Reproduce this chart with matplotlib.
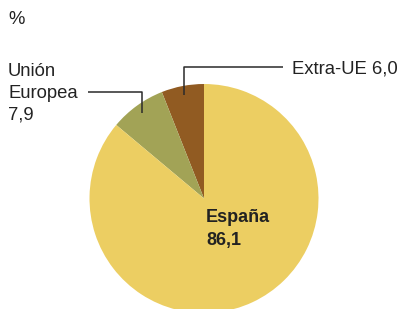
import matplotlib.pyplot as plt
import numpy as np

plt.rcParams["font.family"] = ["Liberation Sans", "DejaVu Sans"]

# pie data, drawn counter-clockwise from 12 o'clock
labels = ["Extra-UE", "Unión\nEuropea", "España"]
values = [6.0, 7.9, 86.1]
colors = ["#915B22", "#A2A356", "#ECCE62"]

W, H = 403, 309
TEXT = "#222222"
LINE = "#2a2a2a"


def Fmt(v):
    return f"{v:.1f}".replace(".", ",")


def Y(y_top):
    # pixel row measured from top -> data y
    return H - y_top


fig = plt.figure(figsize=(W / 100, H / 100), dpi=100)
ax = fig.add_axes([0, 0, 1, 1])

cx, cy, R = 204, Y(198.5), 114.5
wedges, _ = ax.pie(
    values,
    colors=colors,
    startangle=90,
    counterclock=True,
    center=(cx, cy),
    radius=R,
    wedgeprops=dict(linewidth=0),
)
ax.set_xlim(0, W)
ax.set_ylim(0, H)
ax.set_aspect("equal")
ax.axis("off")

fs = 13.3

# leader anchors at the middle of each small wedge
cum = np.cumsum([0] + values[:-1])
mids = 90 + 360 * (cum + np.array(values) / 2) / 100
anchors = [(cx + 0.92 * R * np.cos(np.radians(a)), cy + 0.92 * R * np.sin(np.radians(a))) for a in mids]

# Extra-UE
ax_, ay_ = anchors[0]
ax.plot([ax_, ax_, 283], [ay_, Y(67), Y(67)], color=LINE, lw=1.1, solid_capstyle="butt")
ax.text(292, Y(69), f"{labels[0]} {Fmt(values[0])}", ha="left", va="center",
        fontsize=fs, color=TEXT)

# Unión Europea
ux, uy = anchors[1]
ax.plot([ux, ux, 88], [uy, Y(92), Y(92)], color=LINE, lw=1.1, solid_capstyle="butt")
ue_lines = labels[1].split("\n") + [Fmt(values[1])]
for i, s in enumerate(ue_lines):
    ax.text(8, Y(71 + 22 * i), s, ha="left", va="center", fontsize=fs, color=TEXT)

# España
ax.text(206, Y(218), labels[2], ha="left", va="center", fontsize=13,
        fontweight="bold", color=TEXT)
ax.text(206, Y(240), Fmt(values[2]), ha="left", va="center", fontsize=13,
        fontweight="bold", color=TEXT)

ax.text(8, Y(20), "%", ha="left", va="center", fontsize=fs, color=TEXT)

fig.savefig("out.png", dpi=100)
